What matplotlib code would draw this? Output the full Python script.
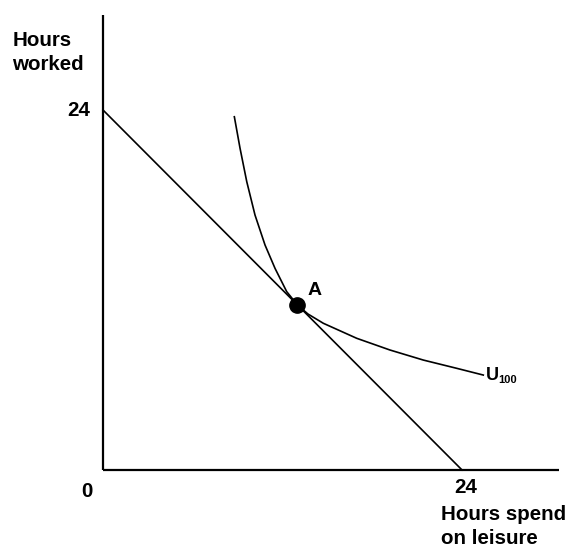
import matplotlib
matplotlib.use("Agg")
import matplotlib.pyplot as plt

plt.rcParams['font.family'] = ['Liberation Sans', 'DejaVu Sans']

# Data
budget_x = [0, 24]
budget_y = [24, 0]
curve_x = [8.78, 9.16, 9.61, 10.16, 10.83, 11.5, 12.28, 13.0, 13.7, 14.73, 16.96, 19.18, 21.41, 23.64, 25.42]
curve_y = [23.55, 21.45, 19.22, 17.0, 15.0, 13.44, 11.89, 11.0, 10.4, 9.78, 8.78, 8.0, 7.33, 6.78, 6.33]
point_a = (13, 11)
y_label = "Hours\nworked"
x_label = "Hours spend\non leisure"
curve_label = ("U", "100")

fig = plt.figure(figsize=(5.71, 5.5), dpi=100)
ax = fig.add_axes([0, 0, 1, 1])
ax.set_xlim(-103 / 14.96, (571 - 103) / 14.96)
ax.set_ylim((470 - 550) / 15, 470 / 15)
ax.axis('off')

# axes lines
ax.plot([0, 0], [0, 30.3], color='black', lw=1.6, solid_capstyle='butt')
ax.plot([0, 30.5], [0, 0], color='black', lw=1.6, solid_capstyle='butt')

# budget line
ax.plot(budget_x, budget_y, color='black', lw=1.2)
# indifference curve
ax.plot(curve_x, curve_y, color='black', lw=1.2, solid_joinstyle='round')
# point A
ax.plot([point_a[0]], [point_a[1]], 'o', color='black', ms=11)

bold = dict(fontweight='bold', fontsize=14.8, color='black')
ax.text(-6.05, 29.3, y_label, ha='left', va='top', linespacing=1.4, **bold)
ax.text(-0.85, 23.95, "24", ha='right', va='center', **bold)
ax.text(-1.05, -0.8, "0", ha='center', va='top', **bold)
ax.text(24.25, -0.55, "24", ha='center', va='top', **bold)
ax.text(22.6, -2.3, x_label, ha='left', va='top', linespacing=1.4, **bold)
ax.text(13.7, 11.95, "A", ha='left', va='center', fontweight='bold', fontsize=14)
ax.text(25.6, 6.3, curve_label[0], ha='left', va='center', fontweight='bold', fontsize=13)
ax.text(26.45, 6.0, curve_label[1], ha='left', va='center', fontweight='bold', fontsize=8)

fig.savefig("out.png", dpi=100)
